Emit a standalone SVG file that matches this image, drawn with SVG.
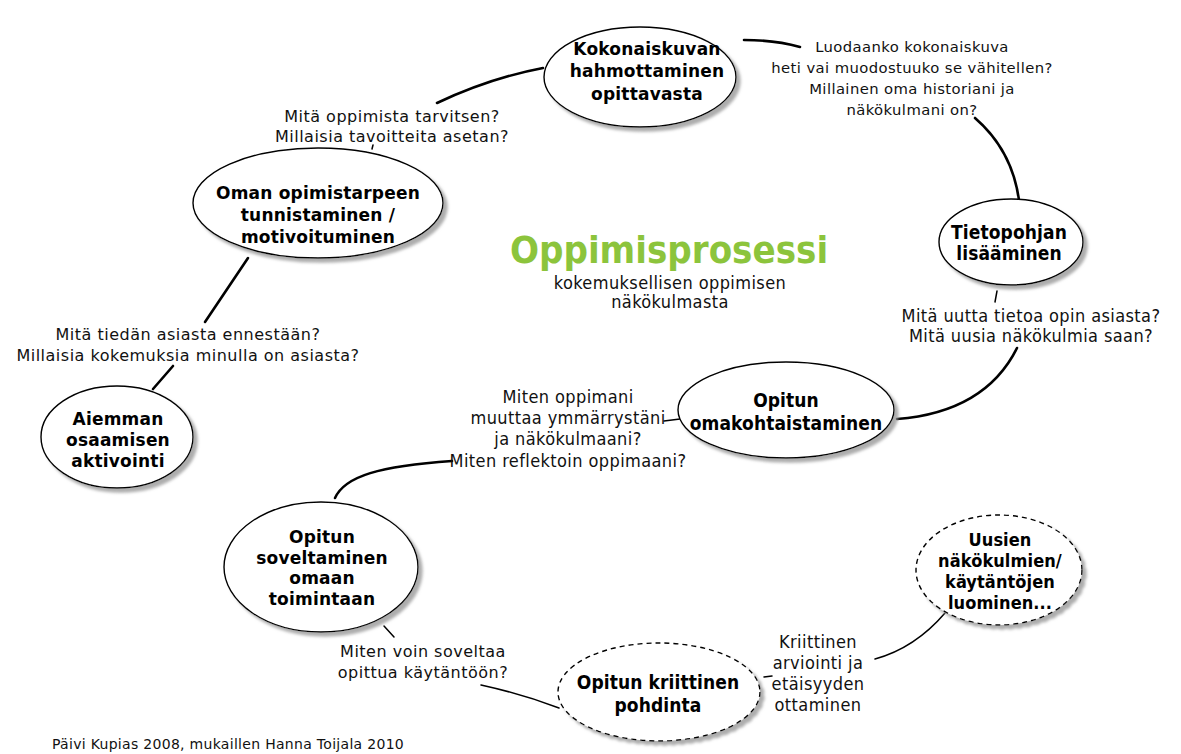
<svg xmlns="http://www.w3.org/2000/svg" width="1181" height="754" viewBox="0 0 1181 754">
<style>
.bg{fill:#fff}
.node{fill:#fff;stroke:#000;stroke-width:1.4;filter:url(#sh)}
.dash{stroke-dasharray:5 4}
.nt{font-family:"DejaVu Sans",Verdana,sans-serif;font-weight:bold;font-size:17px;letter-spacing:0.2px;text-anchor:middle;fill:#000}
.nc{font-family:"DejaVu Sans Condensed","DejaVu Sans",sans-serif;font-weight:bold;font-size:19px;letter-spacing:0.1px;text-anchor:middle;fill:#000}
.lt{font-family:"DejaVu Sans",Verdana,sans-serif;font-size:16px;letter-spacing:0.5px;text-anchor:middle;fill:#111}
.ls{font-family:"DejaVu Sans",Verdana,sans-serif;font-size:14.8px;letter-spacing:0.4px;text-anchor:middle;fill:#111}
.lc{font-family:"DejaVu Sans Condensed","DejaVu Sans",sans-serif;font-size:18px;letter-spacing:0.4px;text-anchor:middle;fill:#111}
.con{fill:none;stroke:#000;stroke-width:2.6;stroke-linecap:round}
.thin{fill:none;stroke:#000;stroke-width:1.5;stroke-linecap:round}
.title{font-family:"DejaVu Sans Condensed","DejaVu Sans",sans-serif;font-weight:bold;font-size:38px;text-anchor:middle;fill:#8cc43c}
.foot{font-family:"DejaVu Sans",Verdana,sans-serif;font-size:14px;letter-spacing:0.3px;fill:#111}
</style>
<defs>
<filter id="sh" x="-20%" y="-20%" width="150%" height="150%">
<feDropShadow dx="4" dy="4" stdDeviation="1.5" flood-color="#999" flood-opacity="0.8"/>
</filter>
</defs>
<rect class="bg" width="1181" height="754"/>

<g id="connectors">
<path class="con" d="M437 103 Q490 78 543 68"/>
<path class="con" d="M744 40 Q775 40 800 47"/>
<path class="con" d="M975 118 Q1012 150 1019 200"/>
<path class="thin" d="M997 291 L995 302"/>
<path class="con" d="M1017 348 Q985 412 897 419"/>
<path class="thin" d="M664 421 L680 419"/>
<path class="con" d="M335 498 C345 476 380 466 452 461"/>
<path class="con" d="M248 258 L205 322"/>
<path class="con" d="M173 366 L153 389"/>
<path class="thin" d="M384 626 L394 637"/>
<path class="thin" d="M481 685 Q522 694 559 708"/>
<path class="thin" d="M764 677 L772 676"/>
<path class="thin" d="M875 659 Q915 648 945 613"/>
<path class="thin" d="M373 145 L372 149"/>
</g>

<g id="title">
<text class="title" x="669" y="263">Oppimisprosessi</text>
<text class="lc" x="670" y="289">kokemuksellisen oppimisen</text>
<text class="lc" x="670" y="308">näkökulmasta</text>
</g>

<g id="node-kokonaiskuva">
<ellipse class="node" cx="640" cy="77" rx="96" ry="50"/>
<text class="nt" x="647" y="55">Kokonaiskuvan</text>
<text class="nt" x="647" y="77">hahmottaminen</text>
<text class="nt" x="647" y="100">opittavasta</text>
</g>

<g id="node-oman">
<ellipse class="node" cx="318" cy="203" rx="125" ry="55"/>
<text class="nt" x="318" y="199">Oman opimistarpeen</text>
<text class="nt" x="318" y="221">tunnistaminen /</text>
<text class="nt" x="318" y="243">motivoituminen</text>
</g>

<g id="node-aiemman">
<ellipse class="node" cx="117" cy="437" rx="76" ry="51"/>
<text class="nt" x="118" y="425">Aiemman</text>
<text class="nt" x="118" y="446">osaamisen</text>
<text class="nt" x="118" y="467">aktivointi</text>
</g>

<g id="node-tietopohja">
<ellipse class="node" cx="1011" cy="242" rx="72" ry="43"/>
<text class="nc" x="1009" y="239">Tietopohjan</text>
<text class="nc" x="1009" y="260">lisääminen</text>
</g>

<g id="node-omakohtaistaminen">
<ellipse class="node" cx="786" cy="410" rx="108" ry="48"/>
<text class="nc" x="786" y="407">Opitun</text>
<text class="nc" x="786" y="430">omakohtaistaminen</text>
</g>

<g id="node-soveltaminen">
<ellipse class="node" cx="321" cy="567" rx="97" ry="65"/>
<text class="nt" x="322" y="543">Opitun</text>
<text class="nt" x="322" y="564">soveltaminen</text>
<text class="nt" x="322" y="584">omaan</text>
<text class="nt" x="322" y="605">toimintaan</text>
</g>

<g id="node-kriittinen">
<ellipse class="node dash" cx="659" cy="692" rx="101" ry="49"/>
<text class="nc" x="658" y="689">Opitun kriittinen</text>
<text class="nc" x="658" y="712">pohdinta</text>
</g>

<g id="node-uusien">
<ellipse class="node dash" cx="999" cy="570" rx="83" ry="55"/>
<text class="nc" x="1000" y="546" style="font-size:18px">Uusien</text>
<text class="nc" x="1000" y="567" style="font-size:18px">näkökulmien/</text>
<text class="nc" x="1000" y="588" style="font-size:18px">käytäntöjen</text>
<text class="nc" x="1000" y="609" style="font-size:18px">luominen...</text>
</g>

<g id="labels">
<text class="lt" x="392" y="122">Mitä oppimista tarvitsen?</text>
<text class="lt" x="392" y="142">Millaisia tavoitteita asetan?</text>
<text class="ls" x="912" y="52">Luodaanko kokonaiskuva</text>
<text class="ls" x="912" y="73">heti vai muodostuuko se vähitellen?</text>
<text class="ls" x="912" y="94">Millainen oma historiani ja</text>
<text class="ls" x="912" y="115">näkökulmani on?</text>
<text class="lc" x="1031" y="322">Mitä uutta tietoa opin asiasta?</text>
<text class="lc" x="1031" y="342">Mitä uusia näkökulmia saan?</text>
<text class="lt" x="188" y="340">Mitä tiedän asiasta ennestään?</text>
<text class="lt" x="188" y="361">Millaisia kokemuksia minulla on asiasta?</text>
<text class="lc" x="568" y="403">Miten oppimani</text>
<text class="lc" x="568" y="424">muuttaa ymmärrystäni</text>
<text class="lc" x="568" y="445">ja näkökulmaani?</text>
<text class="lc" x="568" y="467">Miten reflektoin oppimaani?</text>
<text class="lt" x="423" y="657">Miten voin soveltaa</text>
<text class="lt" x="423" y="678">opittua käytäntöön?</text>
<text class="lc" x="818" y="648">Kriittinen</text>
<text class="lc" x="818" y="669">arviointi ja</text>
<text class="lc" x="818" y="690">etäisyyden</text>
<text class="lc" x="818" y="711">ottaminen</text>
<text class="foot" x="52" y="749">Päivi Kupias 2008, mukaillen Hanna Toijala 2010</text>
</g>
</svg>
